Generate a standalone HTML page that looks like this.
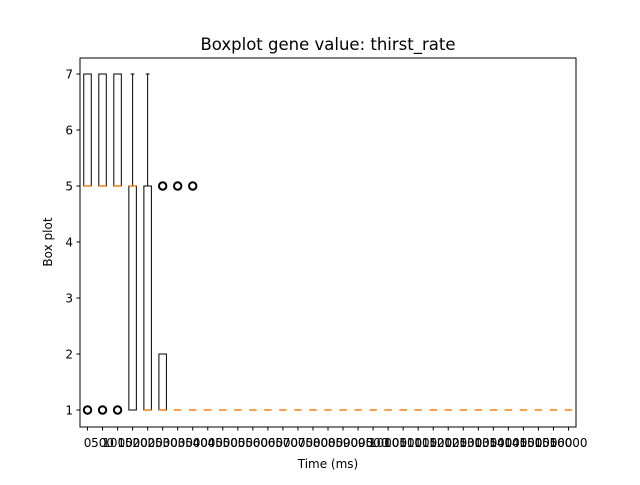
<!DOCTYPE html>
<html><head><meta charset="utf-8"><style>body{margin:0;background:#fff}svg{font-family:"DejaVu Sans","Liberation Sans",sans-serif}</style></head>
<body>
<svg id="c" width="640" height="480"></svg>
<script>
const categories=[];for(let i=0;i<=32;i++)categories.push(String(i*500));
const q1=[5,5,5,1,1,1,1,1,1,1,1,1,1,1,1,1,1,1,1,1,1,1,1,1,1,1,1,1,1,1,1,1,1];
const q3=[7,7,7,5,5,2,1,1,1,1,1,1,1,1,1,1,1,1,1,1,1,1,1,1,1,1,1,1,1,1,1,1,1];
const med=[5,5,5,5,1,1,1,1,1,1,1,1,1,1,1,1,1,1,1,1,1,1,1,1,1,1,1,1,1,1,1,1,1];
const wlo=[5,5,5,1,1,1,1,1,1,1,1,1,1,1,1,1,1,1,1,1,1,1,1,1,1,1,1,1,1,1,1,1,1];
const whi=[7,7,7,7,7,2,1,1,1,1,1,1,1,1,1,1,1,1,1,1,1,1,1,1,1,1,1,1,1,1,1,1,1];
const fliers=[[1],[1],[1],[],[],[5],[5],[5]];
const yTicks=[1,2,3,4,5,6,7];
const L=80,R=576,T=58,B=427,n=categories.length;
const sx=p=>L+(p+0.5)*(R-L)/n;
const sy=v=>410-(v-1)*56;
const svg=document.getElementById('c');const NS='http://www.w3.org/2000/svg';
function mk(t,a,name,txt){const e=document.createElementNS(NS,t);for(const k in a)e.setAttribute(k,a[k]);


if(txt!==undefined)e.textContent=txt;svg.appendChild(e);return e;}
mk('rect',{x:L,y:T,width:R-L,height:B-T,fill:'none',stroke:'#000','stroke-width':1},'plot-frame');
yTicks.forEach(v=>{mk('line',{x1:L-3.5,x2:L,y1:sy(v),y2:sy(v),stroke:'#000'},'y-tick');
mk('text',{x:L-7,y:sy(v)+4.5,'text-anchor':'end','font-size':12},'y-tick-label',v);});
const hw=3.75;
categories.forEach((c,i)=>{const x=sx(i);
mk('line',{x1:x,x2:x,y1:B,y2:B+3.5,stroke:'#000'},'x-tick');
mk('text',{x:x,y:B+20,'text-anchor':'middle','font-size':12},'x-tick-label',c);
mk('line',{x1:x,x2:x,y1:sy(q3[i]),y2:sy(whi[i]),stroke:'#000'},'whisker-high');
mk('line',{x1:x,x2:x,y1:sy(q1[i]),y2:sy(wlo[i]),stroke:'#000'},'whisker-low');
mk('line',{x1:x-hw/2,x2:x+hw/2,y1:sy(whi[i]),y2:sy(whi[i]),stroke:'#000'},'cap-high');
mk('line',{x1:x-hw/2,x2:x+hw/2,y1:sy(wlo[i]),y2:sy(wlo[i]),stroke:'#000'},'cap-low');
mk('rect',{x:x-hw,y:sy(q3[i]),width:2*hw,height:sy(q1[i])-sy(q3[i]),fill:'none',stroke:'#000'},'box');
mk('line',{x1:x-hw,x2:x+hw,y1:sy(med[i]),y2:sy(med[i]),stroke:'#ff7f0e','stroke-width':1.5},'median-line');
(fliers[i]||[]).forEach(f=>mk('circle',{cx:x,cy:sy(f),r:3.7,fill:'none',stroke:'#000','stroke-width':2},'outlier'));
});
mk('text',{x:328,y:50,'text-anchor':'middle','font-size':16.5},'chart-title','Boxplot gene value: thirst_rate');
mk('text',{x:328,y:468,'text-anchor':'middle','font-size':12},'x-axis-title','Time (ms)');
mk('text',{x:52,y:242,'text-anchor':'middle','font-size':12,transform:'rotate(-90 52 242)'},'y-axis-title','Box plot');
</script>
</body></html>
